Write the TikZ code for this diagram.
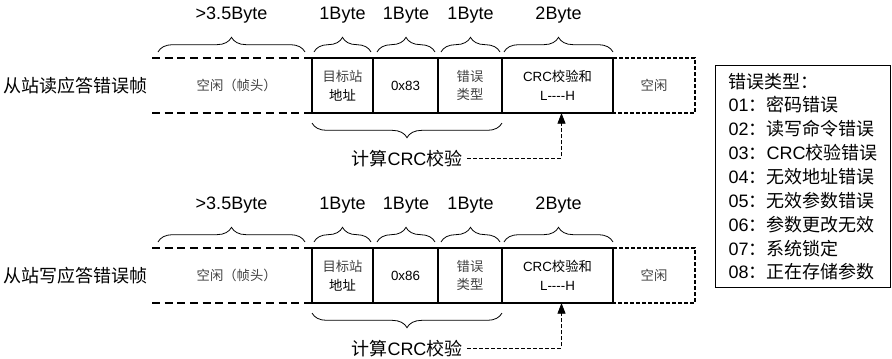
\documentclass[tikz,border=0pt]{standalone}
\usepackage{fontspec}
\setmainfont{Liberation Sans}
\newfontfamily\cjk{Noto Sans CJK SC}
\usetikzlibrary{arrows.meta,positioning,calc,decorations.pathreplacing}
\tikzset{fb/.style={draw,line width=1pt,minimum height=41.25pt,inner sep=0pt,outer sep=0pt,align=center,font=\fontsize{10}{14}\selectfont},
 gap/.style={fb,draw=none},
 dsh/.style={line width=1pt,dash pattern=on 6pt off 3.5pt},
 dsh2/.style={line width=.9pt,dash pattern=on 3pt off 1.5pt},
 brc/.style={decorate,decoration={brace,amplitude=11pt},line width=.6pt},
 big/.style={font=\fontsize{13.5}{17.9}\selectfont},
 arr/.style={-{Triangle[length=8pt,width=6pt]},line width=.6pt,dash pattern=on 3pt off 1.5pt}}
\begin{document}
\begin{tikzpicture}[x=.75pt,y=-.75pt]
\useasboundingbox (0,0) rectangle (892,358);
\foreach \i/\yy/\rw/\fc in {1/0/读/83,2/190/写/86}{
\node[gap,minimum width=120pt] (head\i) at (232,85.5+\yy) {\color{black!75}\cjk\hspace*{7pt}空闲（帧头）};
\node[fb,minimum width=45.75pt,right=0pt of head\i] (addr\i) {\color{black!75}\cjk 目标站\\\cjk 地址};
\node[fb,minimum width=48.75pt,right=0pt of addr\i] (fc\i) {0x\fc};
\node[fb,minimum width=48pt,right=0pt of fc\i] (err\i) {\color{black!75}\cjk 错误\\\color{black!75}\cjk 类型};
\node[fb,minimum width=83.25pt,right=0pt of err\i] (crc\i) {CRC{\cjk 校验和}\\L{-}{-}{-}{-}H};
\node[gap,minimum width=61.5pt,right=0pt of crc\i] (idle\i) {\color{black!75}\cjk 空闲};
\draw[dsh] (head\i.north west)--(head\i.north east) (head\i.south west)--(head\i.south east);
\draw[dsh2] (idle\i.north west)--(idle\i.north east)--(idle\i.south east)--(idle\i.south west);
\node[big,left=0pt of head\i] (ttl\i) {\cjk 从站\rw 应答错误帧};
% byte widths
\draw[brc] ([shift={(6,-6)}]head\i.north west)--node[midway,yshift=27.75pt,big]{>3.5Byte}([shift={(-7,-6)}]head\i.north east);
\draw[brc] ([shift={(2,-6)}]addr\i.north west)--node[midway,yshift=27.75pt,big]{1Byte}([shift={(-2,-6)}]addr\i.north east);
\draw[brc] ([shift={(4,-6)}]fc\i.north west)--node[midway,yshift=27.75pt,big]{1Byte}([shift={(-3,-6)}]fc\i.north east);
\draw[brc] ([shift={(3,-6)}]err\i.north west)--node[midway,yshift=27.75pt,big]{1Byte}([shift={(-2,-6)}]err\i.north east);
\draw[brc] ([shift={(2,-6)}]crc\i.north west)--node[midway,yshift=27.75pt,big]{2Byte}([shift={(0,-6)}]crc\i.north east);
% crc range
\draw[brc,decoration={mirror}] ([shift={(0,10)}]addr\i.south west)--node[midway,yshift=-26.5pt,big](calc\i){\cjk 计算{\rmfamily CRC}校验}([shift={(0,10)}]err\i.south east);
\draw[arr] (calc\i.east)-|([xshift=3pt]crc\i.south);
}
\node[draw,line width=1pt,anchor=north west,align=left,big,minimum width=131.25pt,minimum height=166.5pt] (lgd) at (715,65)
 {{\cjk 错误类型：}\\01{\cjk ：密码错误}\\02{\cjk ：读写命令错误}\\03{\cjk ：}CRC{\cjk 校验错误}\\04{\cjk ：无效地址错误}\\05{\cjk ：无效参数错误}\\06{\cjk ：参数更改无效}\\07{\cjk ：系统锁定}\\08{\cjk ：正在存储参数}};
\end{tikzpicture}
\end{document}
